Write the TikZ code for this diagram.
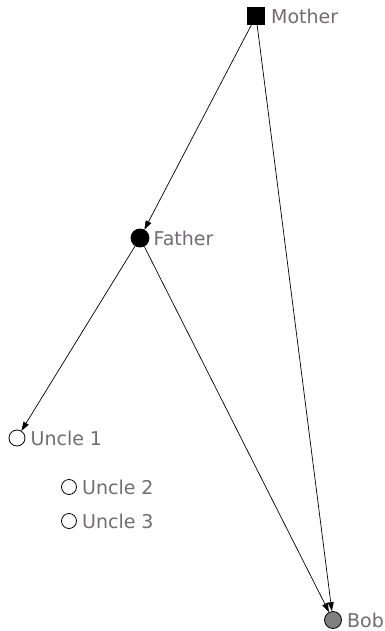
\documentclass[tikz,border=0pt]{standalone}
\usepackage{fontspec}
\setmainfont{DejaVu Sans}
\usetikzlibrary{arrows.meta, positioning}
\definecolor{labelgray}{RGB}{112,108,112}
\definecolor{bobgray}{RGB}{128,128,128}

\begin{document}
\begin{tikzpicture}[
    x=1pt, y=-1pt,
    person/.style={draw=black, line width=0.8pt, inner sep=0pt},
    male/.style={person, circle, minimum size=#1},
    female/.style={person, rectangle, fill=black, minimum size=17pt},
    tag/.style={text=labelgray, font=\fontsize{19}{21}\selectfont, inner sep=0pt},
    arrow/.style={-{Triangle[length=9pt, width=6pt]}, line width=0.7pt},
]
\useasboundingbox (0,0) rectangle (384,631);

% People
\node[female] (mother) at (256, 16) {};
\node[male=18pt, fill=black] (father) at (140, 238) {};
\node[male=16pt, fill=white] (uncle1) at (17, 438) {};
\node[male=15pt, fill=white] (uncle2) at (69, 487) {};
\node[male=15pt, fill=white] (uncle3) at (69, 521) {};
\node[male=17pt, fill=bobgray] (bob) at (333, 620) {};

% Names
\node[tag, right=6pt of mother] (mother_lbl) {Mother};
\node[tag, right=4pt of father] (father_lbl) {Father};
\node[tag, right=5pt of uncle1] (uncle1_lbl) {Uncle 1};
\node[tag, right=5pt of uncle2] (uncle2_lbl) {Uncle 2};
\node[tag, right=5pt of uncle3] (uncle3_lbl) {Uncle 3};
\node[tag, right=5pt of bob] (bob_lbl) {Bob};

% Links
\draw[arrow] (mother) -- (father);
\draw[arrow] (mother) -- (bob);
\draw[arrow] (father) -- (uncle1);
\draw[arrow] (father) -- (bob);

\end{tikzpicture}
\end{document}
